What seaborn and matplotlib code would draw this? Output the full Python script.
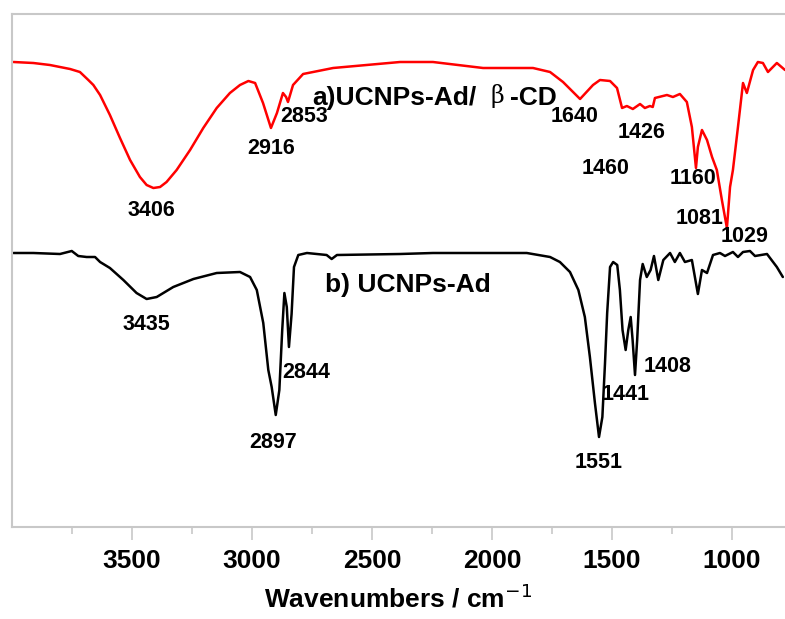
import matplotlib
matplotlib.use("Agg")
import matplotlib.pyplot as plt
import seaborn as sns
import pandas as pd
import numpy as np

# spectrum a) UCNPs-Ad/beta-CD (wavenumber, relative transmittance)
wn_a = [3994, 3911, 3842, 3758, 3717, 3682, 3661, 3633, 3592, 3550, 3508, 3467, 3439, 3411,
        3383, 3356, 3314, 3258, 3203, 3147, 3092, 3050, 3015, 2987, 2954, 2921, 2896, 2871,
        2858, 2850, 2829, 2787, 2662, 2383, 2246, 2037, 1829,
        1758, 1704, 1633, 1579, 1550, 1508, 1479, 1458, 1438, 1413, 1383, 1363, 1342, 1330,
        1321, 1271, 1246, 1217, 1188, 1167, 1150, 1142, 1125, 1104, 1083, 1063, 1042, 1021,
        1008, 996, 975, 954, 938, 912, 892, 871, 850, 813, 779]
tr_a = [465, 464, 462, 458, 455, 447, 442, 432, 412, 389, 367, 350, 342, 339,
        340, 345, 357, 377, 399, 419, 434, 442, 446, 444, 424, 399, 414, 434,
        430, 425, 442, 453, 459, 465, 465, 459, 459,
        455, 445, 428, 442, 447, 446, 439, 419, 421, 418, 423, 419, 421, 420,
        429, 432, 430, 433, 425, 400, 359, 380, 397, 387, 370, 357, 327, 299,
        340, 357, 400, 444, 434, 457, 465, 464, 455, 464, 457]

# spectrum b) UCNPs-Ad
wn_b = [3994, 3911, 3800, 3751, 3724, 3689, 3654, 3633, 3592, 3536, 3481, 3439, 3397, 3328,
        3244, 3147, 3050, 3008, 2980, 2953, 2932, 2918, 2901, 2886, 2874, 2865, 2855, 2846,
        2835, 2825, 2807, 2771, 2689, 2668, 2646, 2383, 2246, 1855, 1758, 1717, 1675, 1640,
        1613, 1592, 1571, 1554, 1540, 1529, 1520, 1508, 1495, 1478, 1467, 1456, 1443, 1432,
        1422, 1414, 1404, 1395, 1383, 1372, 1355, 1339, 1325, 1307, 1286, 1258, 1238, 1217,
        1196, 1167, 1142, 1125, 1104, 1079, 1050, 1029, 996, 975, 954, 925, 904, 854, 813, 788]
tr_b = [274, 274, 273, 276, 271, 270, 270, 265, 259, 247, 234, 228, 230, 240,
        248, 254, 255, 250, 237, 204, 157, 140, 112, 137, 197, 234, 220, 180,
        213, 260, 272, 274, 272, 268, 272, 273, 274, 274, 270, 265, 255, 237,
        210, 170, 124, 90, 110, 164, 214, 260, 265, 262, 237, 197, 177, 197,
        210, 187, 152, 187, 247, 263, 250, 257, 271, 247, 267, 274, 265, 274,
        265, 267, 233, 257, 254, 272, 274, 271, 275, 270, 275, 276, 271, 273, 260, 250]

peak_labels = ["3406", "2916", "2853", "1640", "1426", "1460", "1160", "1081", "1029",
               "3435", "2844", "2897", "1551", "1441", "1408"]
label_wn = [3417, 2921, 2783, 1654, 1375, 1525, 1162, 1133, 946,
            3438, 2775, 2912, 1554, 1442, 1267]
label_tr = [317, 378, 410, 411, 395, 358, 349, 309, 290,
            203, 155, 85, 65, 133, 160]

df = pd.concat([
    pd.DataFrame({"wn": wn_a, "T": tr_a, "sample": "a"}),
    pd.DataFrame({"wn": wn_b, "T": tr_b, "sample": "b"}),
])

sns.set_style("white")
plt.rcParams["font.family"] = ["Liberation Sans", "DejaVu Sans"]
plt.rcParams["text.color"] = "black"
plt.rcParams["axes.labelcolor"] = "black"
plt.rcParams["xtick.labelcolor"] = "black"

fig = plt.figure(figsize=(7.85, 6.19), dpi=100)
ax = fig.add_axes([12 / 785, 92 / 619, 773 / 785, 513 / 619])

sns.lineplot(data=df, x="wn", y="T", hue="sample", palette={"a": "#ff0000", "b": "#000000"},
             sort=False, estimator=None, linewidth=1.8, legend=False, ax=ax)

for lab, x, y in zip(peak_labels, label_wn, label_tr):
    ax.text(x, y, lab, ha="center", va="center", fontsize=15.5, fontweight="bold")

ax.text(2750, 429, "a)UCNPs-Ad/", ha="left", va="center", fontsize=19, fontweight="bold")
ax.text(2008, 431, "β", ha="left", va="center", fontsize=17, family="DejaVu Serif")
ax.text(1925, 429, "-CD", ha="left", va="center", fontsize=19, fontweight="bold")
ax.text(2696, 242, "b) UCNPs-Ad", ha="left", va="center", fontsize=19, fontweight="bold")

ax.set_xlim(4000, 779)
ax.set_ylim(0, 513)
ax.set_yticks([])
ax.set_xticks([3500, 3000, 2500, 2000, 1500, 1000])
ax.set_xticks(np.arange(3750, 750, -250), minor=True)
ax.tick_params(axis="x", which="major", direction="out", length=9, width=1.2,
               color="#c8c8c8", labelsize=19, pad=7, bottom=True)
ax.tick_params(axis="x", which="minor", direction="out", length=5, width=1.2,
               color="#c8c8c8", bottom=True)
for lab in ax.get_xticklabels():
    lab.set_fontweight("bold")
ax.set_xlabel("Wavenumbers / cm$^{-1}$", fontsize=19, fontweight="bold", labelpad=8)
ax.set_ylabel("")

for side in ["left", "top", "bottom"]:
    ax.spines[side].set_color("#c8c8c8")
    ax.spines[side].set_linewidth(1.5)
ax.spines["right"].set_visible(False)

fig.savefig("out.png", dpi=100)
